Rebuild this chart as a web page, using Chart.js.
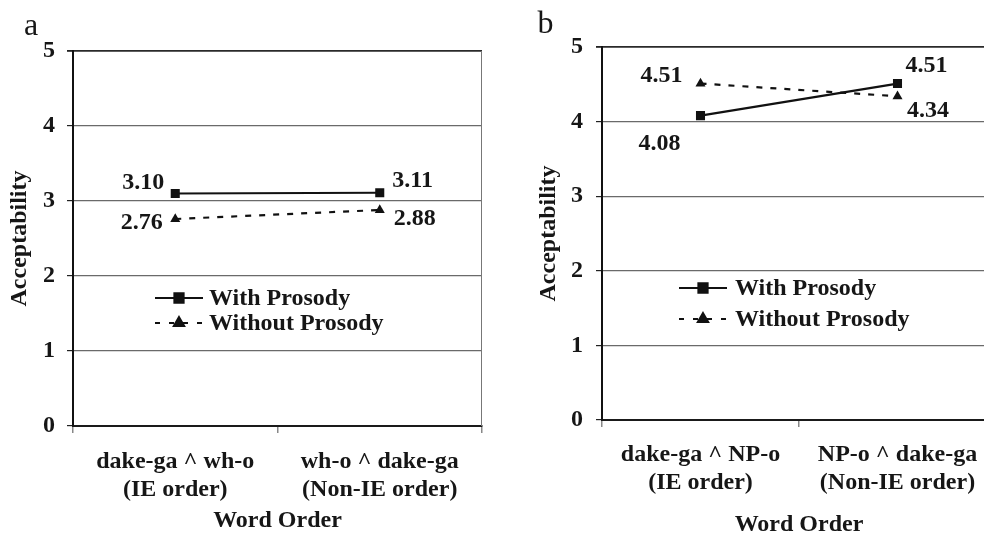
<!DOCTYPE html>
<html>
<head>
<meta charset="utf-8">
<script src="https://cdn.jsdelivr.net/npm/chart.js@4.4.1/dist/chart.umd.min.js"></script>
<style>
  html, body { margin: 0; padding: 0; background: #fff; overflow: hidden; width: 984px; height: 533px; }
  #wrap { position: relative; width: 984px; height: 533px; overflow: hidden; }
  #ca { position: absolute; left: 0; top: 0; }
  #cb { position: absolute; left: 490px; top: 0; }
</style>
</head>
<body>
<div id="wrap">
  <canvas id="ca" width="490" height="540"></canvas>
  <canvas id="cb" width="520" height="540"></canvas>
</div>
<script>
// ---- data ----
const seriesNames = ['With Prosody', 'Without Prosody'];
const categoriesA = [['dake-ga ^ wh-o', '(IE order)'], ['wh-o ^ dake-ga', '(Non-IE order)']];
const withProsodyA = [3.10, 3.11];
const withoutProsodyA = [2.76, 2.88];
const categoriesB = [['dake-ga ^ NP-o', '(IE order)'], ['NP-o ^ dake-ga', '(Non-IE order)']];
const withProsodyB = [4.08, 4.51];
const withoutProsodyB = [4.51, 4.34];
const yTickValues = [0, 1, 2, 3, 4, 5];
const yTitle = 'Acceptability';
const xTitle = 'Word Order';

const FONT = "'Liberation Serif', 'Times New Roman', serif";
const FS = 24;
const INK = '#161616';

// ---- plugins ----
const decorPlugin = {
  id: 'decor',
  afterDraw(chart, args, opts) {
    const ctx = chart.ctx;
    const ca = chart.chartArea;
    ctx.save();
    // right border
    ctx.strokeStyle = '#777';
    ctx.lineWidth = 1;
    ctx.beginPath();
    ctx.moveTo(ca.right - 0.5, ca.top);
    ctx.lineTo(ca.right - 0.5, ca.bottom);
    ctx.stroke();
    // panel letter
    ctx.fillStyle = INK;
    ctx.font = "32px " + FONT;
    ctx.textAlign = 'center';
    ctx.textBaseline = 'alphabetic';
    ctx.fillText(opts.letter, opts.letterX, opts.letterY);

    // data labels
    ctx.font = "bold " + FS + "px " + FONT;
    ctx.textBaseline = 'middle';
    chart.data.datasets.forEach((ds, di) => {
      const meta = chart.getDatasetMeta(di);
      meta.data.forEach((pt, i) => {
        const o = opts.labelOffsets[di][i];
        ctx.textAlign = o.dx < 0 ? 'right' : 'left';
        ctx.fillText(ds.data[i].toFixed(2), pt.x + o.dx, pt.y + o.dy);
      });
    });

    // legend
    const L = opts.legend;
    chart.data.datasets.forEach((ds, di) => {
      const y = L.rows[di];
      ctx.strokeStyle = ds.borderColor;
      ctx.lineWidth = ds.borderWidth;
      ctx.setLineDash(ds.legendDash || []);
      ctx.beginPath();
      ctx.moveTo(L.x1, y);
      ctx.lineTo(L.x2, y);
      ctx.stroke();
      ctx.setLineDash([]);
      Chart.helpers.drawPoint(ctx, {
        pointStyle: ds.pointStyle, radius: ds.pointRadius, rotation: 0, borderWidth: 1
      }, (L.x1 + L.x2) / 2, y);
      ctx.fillStyle = ds.pointBackgroundColor;
      ctx.fill();
      ctx.fillStyle = INK;
      ctx.font = "bold " + FS + "px " + FONT;
      ctx.textAlign = 'left';
      ctx.textBaseline = 'middle';
      ctx.fillText(ds.label, L.textX, y + 1);
    });
    ctx.restore();
  }
};

function makeChart(canvasId, cats, withVals, withoutVals, cfg) {
  return new Chart(document.getElementById(canvasId), {
    type: 'line',
    data: {
      labels: cats,
      datasets: [
        {
          label: seriesNames[0], data: withVals,
          borderColor: '#111', borderWidth: 2.2,
          pointStyle: 'rect', pointRadius: 6.4,
          pointBackgroundColor: '#111', pointBorderColor: '#111', pointBorderWidth: 0,
          fill: false, tension: 0
        },
        {
          label: seriesNames[1], data: withoutVals,
          borderColor: '#111', borderWidth: 2.2, borderDash: [6, 8],
          legendDash: [5, 9],
          pointStyle: 'triangle', pointRadius: 5.8,
          pointBackgroundColor: '#111', pointBorderColor: '#111', pointBorderWidth: 0,
          fill: false, tension: 0
        }
      ]
    },
    options: {
      responsive: false,
      devicePixelRatio: 1,
      animation: false,
      events: [],
      layout: { padding: { top: cfg.top, right: cfg.right, left: 0, bottom: 0 } },
      plugins: {
        legend: { display: false },
        tooltip: { enabled: false },
        decor: cfg.decor
      },
      scales: {
        x: {
          type: 'category',
          offset: true,
          afterFit(s) { s.height = cfg.xHeight; },
          grid: {
            offset: true, drawOnChartArea: false, drawTicks: true,
            tickLength: 7, color: '#888', tickColor: '#888', lineWidth: 1.5
          },
          border: { display: true, color: '#1a1a1a', width: 2 },
          ticks: {
            autoSkip: false, maxRotation: 0, minRotation: 0,
            padding: cfg.xTickPad, color: INK,
            font: { family: FONT, size: FS, weight: 'bold', lineHeight: 28 / FS }
          },
          title: {
            display: true, text: xTitle, color: INK,
            padding: { top: 0, bottom: cfg.xTitlePad },
            font: { family: FONT, size: FS, weight: 'bold' }
          }
        },
        y: {
          min: 0, max: 5,
          afterFit(s) { s.width = cfg.yWidth; },
          afterBuildTicks(s) { s.ticks = yTickValues.map(v => ({ value: v })); },
          grid: {
            drawTicks: true, tickLength: 6,
            color: (c) => (c.tick && c.tick.value === 5) ? '#2a2a2a' : '#6a6a6a',
            lineWidth: (c) => (c.tick && c.tick.value === 5) ? 1.8 : 1.2,
            tickColor: '#222'
          },
          border: { display: true, color: '#111', width: 2 },
          ticks: {
            padding: cfg.yTickPad, color: INK,
            font: { family: FONT, size: FS, weight: 'bold' }
          },
          title: {
            display: true, text: yTitle, color: INK,
            padding: { top: cfg.yTitlePad, bottom: 0 },
            font: { family: FONT, size: FS, weight: 'bold' }
          }
        }
      }
    },
    plugins: [decorPlugin]
  });
}

makeChart('ca', categoriesA, withProsodyA, withoutProsodyA, {
  top: 51, right: 8, xHeight: 114, yWidth: 73,
  xTickPad: 15, xTitlePad: 5, yTickPad: 12, yTitlePad: 5.6,
  decor: {
    letter: 'a', letterX: 31, letterY: 35,
    labelOffsets: [
      [{ dx: -11, dy: -11 }, { dx: 12.5, dy: -12 }],
      [{ dx: -12.5, dy: 3.5 }, { dx: 14, dy: 9 }]
    ],
    legend: { x1: 155, x2: 203, textX: 209, rows: [298, 323] }
  }
});

makeChart('cb', categoriesB, withProsodyB, withoutProsodyB, {
  top: 47, right: 14, xHeight: 120, yWidth: 112,
  xTickPad: 14, xTitlePad: 1.3, yTickPad: 13, yTitlePad: 44,
  decor: {
    letter: 'b', letterX: 55.5, letterY: 33,
    labelOffsets: [
      [{ dx: -20, dy: 28.5 }, { dx: 8, dy: -18 }],
      [{ dx: -18, dy: -7.5 }, { dx: 9.5, dy: 15 }]
    ],
    legend: { x1: 189, x2: 237, textX: 245, rows: [288, 319] }
  }
});
</script>
</body>
</html>
